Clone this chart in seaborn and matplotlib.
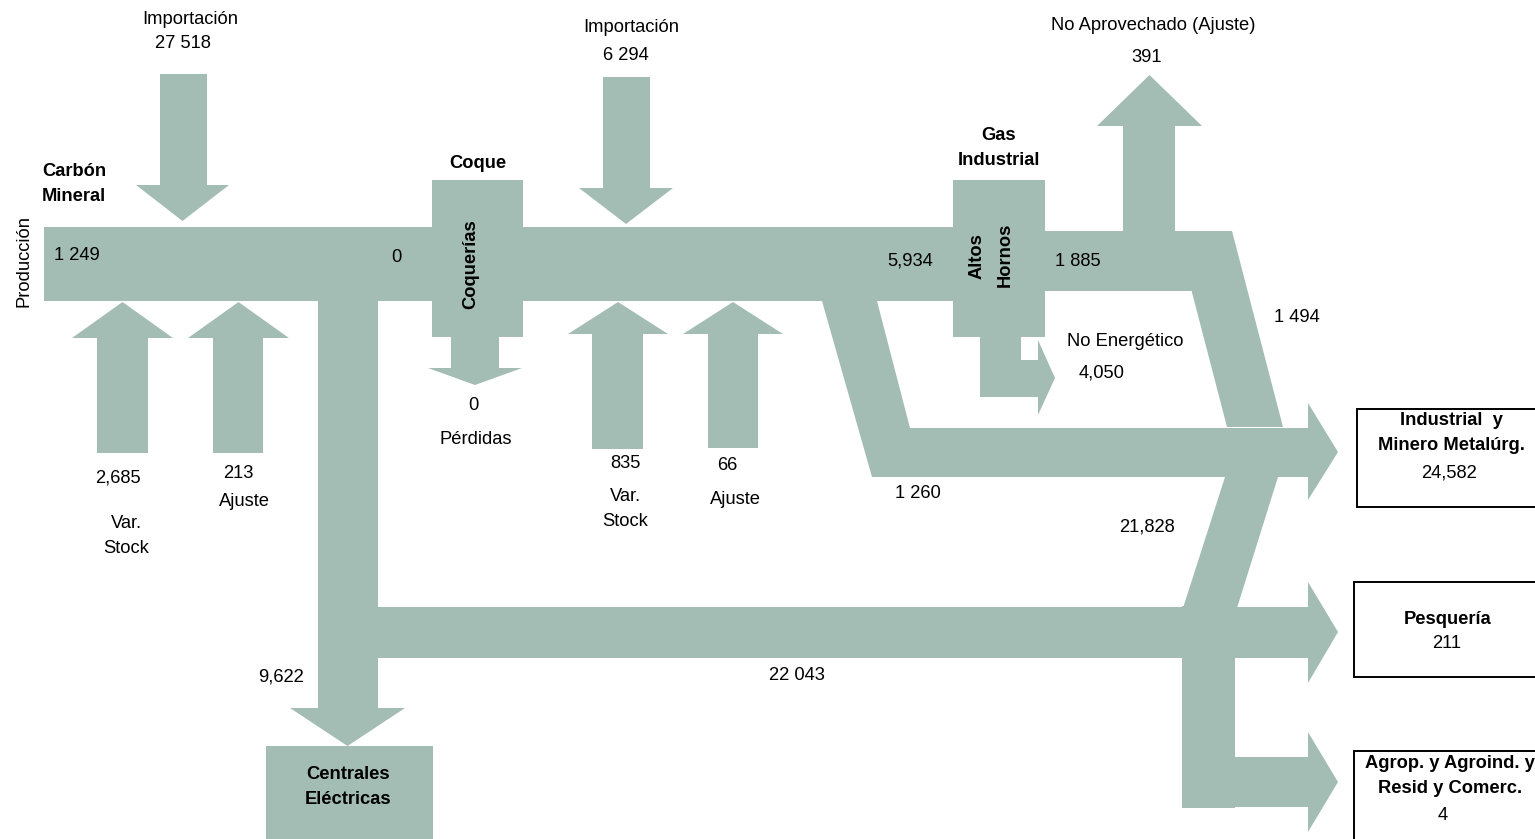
import matplotlib
matplotlib.use("Agg")
import matplotlib.pyplot as plt
from matplotlib.patches import Polygon, Rectangle
import seaborn as sns

# ---------------- data ----------------
# node (transformation centre / sector) labels
centres = ["Carbón\nMineral", "Coque", "Gas\nIndustrial"]
centre_boxes = ["Coquerías", "Altos", "Hornos"]
sectors = ["Industrial  y\nMinero Metalúrg.", "Pesquería", "Agrop. y Agroind. y\nResid y Comerc."]
sector_values = ["24,582", "211", "4"]
power_plants = "Centrales\nEléctricas"

# carbón mineral flows
carbon_flow_names = ["Producción", "Importación", "Var.\nStock", "Ajuste", "Coquerías", "Centrales", "Otros"]
carbon_flow_values = ["1 249", "27 518", "2,685", "213", "0", "9,622", "22 043"]
# coque flows
coque_flow_names = ["Importación", "Pérdidas", "Var.\nStock", "Ajuste", "Altos Hornos", "Industria"]
coque_flow_values = ["6 294", "0", "835", "66", "5,934", "1 260"]
# gas industrial flows
gas_flow_names = ["Salida", "No Aprovechado (Ajuste)", "No Energético", "Industria", "Total"]
gas_flow_values = ["1 885", "391", "4,050", "1 494", "21,828"]

# ---------------- style ----------------
sns.set_theme(style="white")
plt.rcParams["font.family"] = ["Liberation Sans", "DejaVu Sans"]
FLOW = "#a3bdb4"
FS = 13.2

fig = plt.figure(figsize=(15.35, 8.39), dpi=100)
ax = fig.add_axes([0, 0, 1, 1])
ax.set_xlim(0, 1535)
ax.set_ylim(839, 0)
ax.axis("off")
sns.despine(ax=ax, left=True, bottom=True)


def poly(pts):
    ax.add_patch(Polygon(pts, closed=True, facecolor=FLOW, edgecolor="none", lw=0))


def rect(x0, y0, x1, y1):
    poly([(x0, y0), (x1, y0), (x1, y1), (x0, y1)])


def down_arrow(xl, xr, ytop, ybase, hl, hr, ytip):
    xc = (hl + hr) / 2
    poly([(xl, ytop), (xr, ytop), (xr, ybase), (hr, ybase), (xc, ytip), (hl, ybase), (xl, ybase)])


def up_arrow(xl, xr, ybot, ybase, hl, hr, ytip):
    xc = (hl + hr) / 2
    poly([(xl, ybot), (xr, ybot), (xr, ybase), (hr, ybase), (xc, ytip), (hl, ybase), (xl, ybase)])


def txt(x, y, s, bold=False, size=FS, rot=0, ha="center"):
    ax.text(x, y, s, ha=ha, va="center", fontsize=size, rotation=rot,
            fontweight="bold" if bold else "normal", color="black", linespacing=1.6)


# ---------------- main bands ----------------
rect(44, 227, 432, 301)          # carbón mineral band
rect(432, 180, 523, 337)         # coquerías box
rect(523, 227, 953, 301)         # coque band
rect(953, 180, 1045, 337)        # altos hornos box
rect(1045, 231, 1232, 291)       # gas industrial band
poly([(1176, 231), (1232, 231), (1283, 427), (1227, 427)])   # 1 494 diagonal
# coque -> industria diagonal + horizontal band + arrow head
poly([(822, 301), (877, 301), (910, 428), (1308, 428), (1308, 403), (1338, 452),
      (1308, 500), (1308, 477), (872, 477)])
# 21,828 diagonal downwards
poly([(1225, 477), (1278, 477), (1237, 608), (1183, 608)])
# carbón -> centrales vertical
rect(318, 301, 378, 708)
poly([(290, 708), (405, 708), (347.5, 746)])
# 22 043 horizontal to pesquería
poly([(378, 607), (1308, 607), (1308, 582), (1338, 632), (1308, 683), (1308, 658), (378, 658)])
# vertical drop + branch to agrop
rect(1182, 606, 1235, 808)
poly([(1235, 757), (1308, 757), (1308, 732), (1338, 782), (1308, 832), (1308, 807), (1235, 807)])
# centrales box
rect(266, 746, 433, 845)

# ---------------- side arrows ----------------
down_arrow(160, 207, 74, 185, 136, 229, 221)      # importación carbón
down_arrow(603, 650, 77, 188, 579, 673, 224)      # importación coque
up_arrow(97, 148, 453, 338, 72, 173, 302)         # var stock carbón
up_arrow(213, 263, 453, 338, 188, 289, 302)       # ajuste carbón
up_arrow(592, 643, 449, 334, 568, 668, 302)       # var stock coque
up_arrow(708, 758, 448, 334, 683, 783, 302)       # ajuste coque
down_arrow(451, 499, 337, 368, 428, 522, 385)     # pérdidas
up_arrow(1123, 1175, 231, 126, 1097, 1202, 75)    # no aprovechado
poly([(980, 337), (1021, 337), (1021, 360), (1038, 360), (1038, 340), (1055, 378),
      (1038, 415), (1038, 397), (980, 397)])       # no energético

# ---------------- sector boxes ----------------
for (x0, y0, y1) in [(1357, 409, 507), (1354, 582, 677), (1354, 751, 860)]:
    ax.add_patch(Rectangle((x0, y0), 400, y1 - y0, facecolor="white",
                           edgecolor="black", lw=1.4, zorder=3))

# ---------------- texts ----------------
txt(74, 184, centres[0], bold=True)
txt(478, 163, centres[1], bold=True)
txt(999, 148, centres[2], bold=True)
txt(471, 264, centre_boxes[0], bold=True, rot=90)
txt(977, 256, centre_boxes[1], bold=True, rot=90)
txt(1005, 255, centre_boxes[2], bold=True, rot=90)
txt(348, 787, power_plants, bold=True)

txt(24, 261, carbon_flow_names[0], rot=90)
txt(77, 255, carbon_flow_values[0])
txt(190, 19, carbon_flow_names[1])
txt(183, 44, carbon_flow_values[1])
txt(118, 478, carbon_flow_values[2])
txt(126, 536, carbon_flow_names[2])
txt(238, 473, carbon_flow_values[3])
txt(244, 502, carbon_flow_names[3])
txt(396, 257, carbon_flow_values[4])
txt(281, 677, carbon_flow_values[5])
txt(797, 676, carbon_flow_values[6])

txt(631, 28, coque_flow_names[0])
txt(626, 55, coque_flow_values[0])
txt(473, 406, coque_flow_values[1])
txt(476, 440, coque_flow_names[1])
txt(625, 463, coque_flow_values[2])
txt(625, 509, coque_flow_names[2])
txt(727, 465, coque_flow_values[3])
txt(735, 500, coque_flow_names[3])
txt(910, 261, coque_flow_values[4])
txt(918, 494, coque_flow_values[5])

txt(1078, 261, gas_flow_values[0])
txt(1153, 25, gas_flow_names[1])
txt(1147, 57, gas_flow_values[1])
txt(1125, 341, gas_flow_names[2])
txt(1102, 373, gas_flow_values[2])
txt(1297, 317, gas_flow_values[3])
txt(1147, 527, gas_flow_values[4])

txt(1451, 433, sectors[0], bold=True)
txt(1449, 473, sector_values[0])
txt(1448, 619, sectors[1], bold=True)
txt(1447, 643, sector_values[1])
txt(1450, 776, sectors[2], bold=True)
txt(1443, 816, sector_values[2])

fig.savefig("out.png", dpi=100)
